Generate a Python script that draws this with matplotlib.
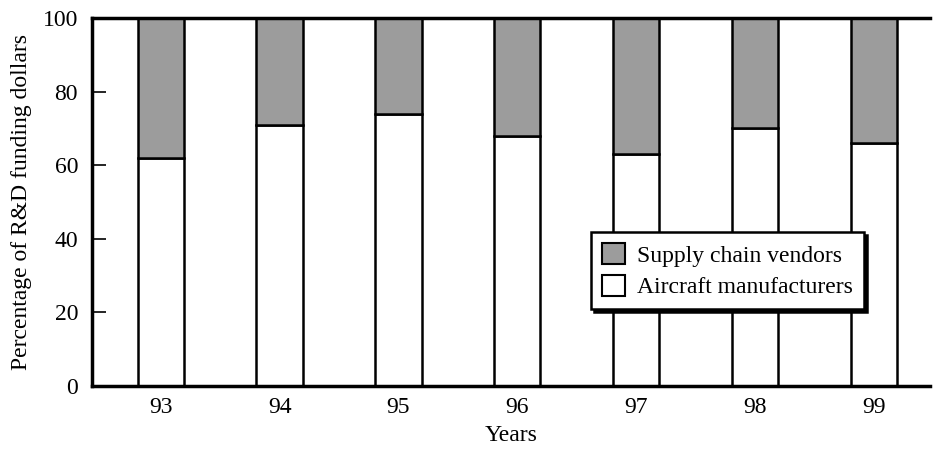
import matplotlib
matplotlib.use("Agg")
import matplotlib.pyplot as plt
from matplotlib.patches import Patch

years = ["93", "94", "95", "96", "97", "98", "99"]
aircraft = [62, 71, 74, 68, 63, 70, 66]
supply = [100 - a for a in aircraft]
yticks = [0, 20, 40, 60, 80, 100]

plt.rcParams['font.family'] = ['Liberation Serif', 'DejaVu Serif']
FS = 17

fig = plt.figure(figsize=(9.38, 4.5), dpi=100)
ax = fig.add_axes([0.098, 0.142, 0.893, 0.818])

x = list(range(len(years)))
w = 0.39
ax.bar(x, aircraft, width=w, color='white', edgecolor='black', linewidth=1.8, zorder=2)
ax.bar(x, supply, width=w, bottom=aircraft, color='#9c9c9c', edgecolor='black',
       linewidth=1.8, zorder=2)

ax.set_xlim(-0.58, 6.47)
ax.set_ylim(0, 100)
ax.set_yticks(yticks)
ax.set_yticklabels([str(t) for t in yticks], fontsize=FS)
ax.tick_params(axis='y', direction='in', length=10, width=1.2, pad=10)
ax.set_xticks(x)
ax.set_xticklabels(years, fontsize=FS)
ax.tick_params(axis='x', length=0, pad=8)

for s in ['left', 'bottom', 'top']:
    ax.spines[s].set_linewidth(2.5)
ax.spines['right'].set_visible(False)

ax.set_ylabel("Percentage of R&D funding dollars", fontsize=FS, labelpad=8)
ax.set_xlabel("Years", fontsize=FS, labelpad=5)

handles = [Patch(facecolor='#9c9c9c', edgecolor='black', linewidth=1.5, label='Supply chain vendors'),
           Patch(facecolor='white', edgecolor='black', linewidth=1.5, label='Aircraft manufacturers')]
leg = ax.legend(handles=handles, loc='upper left', bbox_to_anchor=(0.582, 0.45),
                fontsize=FS, frameon=True, fancybox=False, framealpha=1,
                edgecolor='black', handlelength=1.0, handleheight=1.0,
                handletextpad=0.5, borderpad=0.45, labelspacing=0.35,
                shadow={'color': 'black', 'alpha': 1})
leg.get_frame().set_linewidth(1.8)
leg.set_zorder(5)

fig.savefig("out.png", dpi=100)
